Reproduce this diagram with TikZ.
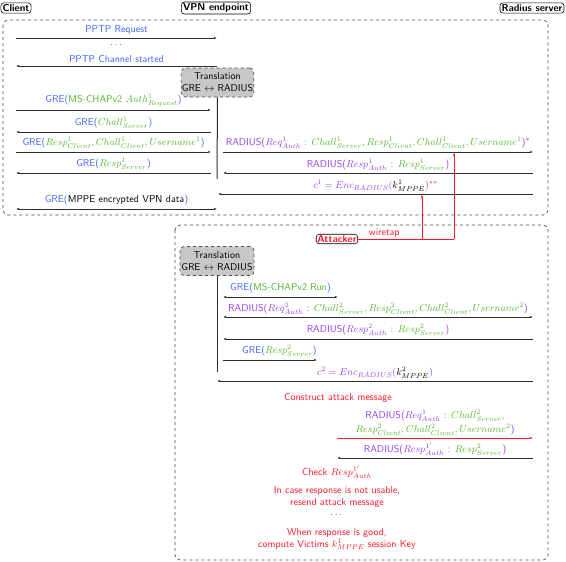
\documentclass[tikz,border=0pt]{standalone}
\usepackage{amsmath}
\usepackage{amssymb}
\usepackage{xcolor}
\usetikzlibrary{arrows.meta}

\definecolor{greblue}{RGB}{60,100,255}
\definecolor{chapgreen}{RGB}{80,180,40}
\definecolor{radpurple}{RGB}{150,60,240}
\definecolor{attred}{RGB}{255,20,40}
\definecolor{linegray}{RGB}{45,45,45}

\newcommand{\gre}[1]{\textcolor{greblue}{GRE(}#1\textcolor{greblue}{)}}
\newcommand{\rad}[1]{\textcolor{radpurple}{RADIUS(}#1\textcolor{radpurple}{)}}
\newcommand{\chap}[1]{\textcolor{chapgreen}{#1}}
\newcommand{\rp}[1]{\textcolor{radpurple}{#1}}

\tikzset{
  party/.style={draw, rounded corners=3pt, font=\sffamily\bfseries, inner sep=1.6pt, line width=0.6pt},
  phase/.style={draw=black!70, dashed, rounded corners=5pt, line width=0.7pt},
  transl/.style={draw=black!70, dashed, fill=black!22, rounded corners=4pt, align=center, inner xsep=0.5pt, inner ysep=2.5pt, minimum width=71pt, minimum height=29pt, line width=0.7pt},
  msg/.style={-{Latex[length=3pt,width=2.2pt]}, draw=linegray, line width=0.6pt},
  dmsg/.style={{Latex[length=3pt,width=2.2pt]}-{Latex[length=3pt,width=2.2pt]}, draw=linegray, line width=0.6pt},
  lifeline/.style={draw=linegray, line width=1pt},
  note/.style={text=attred, align=center},
}

\begin{document}
\begin{tikzpicture}[x=1pt, y=-1pt, every node/.style={font=\sffamily}]
\useasboundingbox (0,0) rectangle (566,562);

% parties
\node (C) at (16,8) [party] {Client};
\node (V) at (216,8) [party] {VPN endpoint};
\node (R) at (532,8) [party] {Radius server};

% phases
\draw [phase] (3,20) rectangle (548,215);
\draw [phase] (175,225) rectangle (548,560);

% first run
\coordinate (c1) at (16,38);  \coordinate (v1) at (217,38);
\coordinate (c2) at (16,66);  \coordinate (v2) at (217,66);
\coordinate (c3) at (16,110); \coordinate (v3) at (211,110);
\coordinate (c4) at (16,132); \coordinate (v4) at (211,132);
\coordinate (c5) at (16,152); \coordinate (v5) at (211,152);
\coordinate (c6) at (16,173); \coordinate (v6) at (211,173);
\coordinate (c7) at (16,209); \coordinate (v7) at (217,209);
\coordinate (w5) at (223,152); \coordinate (r5) at (533,152);
\coordinate (w6) at (223,173); \coordinate (r6) at (533,173);
\coordinate (w8) at (218,194); \coordinate (r8) at (533,194);

\node (T1) at (217.5,82.5) [transl] {Translation\\GRE $\leftrightarrow$ RADIUS};
\coordinate (L1) at (217,179);
\draw [lifeline] (T1.south) -- (L1);

\draw [msg] (c1) -- (v1) node[midway, above] {\textcolor{greblue}{PPTP Request}};
\node (dots1) at (117,45) [] {\textcolor{greblue}{$\dots$}};
\draw [msg] (v2) -- (c2) node[midway, above] {\textcolor{greblue}{PPTP Channel started}};
\draw [msg] (c3) -- (v3) node[midway, above] {\gre{\chap{MS-CHAPv2 $Auth^1_{Request}$}}};
\draw [msg] (v4) -- (c4) node[midway, above] {\gre{\chap{$Chall^1_{Server}$}}};
\draw [msg] (c5) -- (v5) node[midway, above] {\gre{\chap{$Resp^1_{Client}, Chall^1_{Client}, Username^1$}}};
\draw [msg] (v6) -- (c6) node[midway, above] {\gre{\chap{$Resp^1_{Server}$}}};
\draw [msg] (w5) -- (r5) node[midway, above] {\rad{\rp{$Req^1_{Auth}$ :} \chap{$Chall^1_{Server}, Resp^1_{Client}, Chall^1_{Client}, Username^1$}}\textcolor{attred}{$^{*}$}};
\draw [msg] (r6) -- (w6) node[midway, above, yshift=-1pt] {\rad{\rp{$Resp^1_{Auth}$ :} \chap{$Resp^1_{Server}$}}};
\draw [msg] (r8) -- (w8) node[midway, above, yshift=-1pt] {\rp{$c^1 = Enc_{RADIUS}($}$k^1_{MPPE}$\rp{$)$}\textcolor{attred}{$^{**}$}};
\draw [dmsg] (c7) -- (v7) node[midway, above] {\gre{MPPE encrypted VPN data}};

% attacker
\node (A) at (337,239) [party, text=attred, inner sep=1.2pt] {Attacker};
\coordinate (tapA) at (422,239); \coordinate (tapB) at (422,194.5);
\coordinate (tapC) at (454,239); \coordinate (tapD) at (454,152.5);
\draw [attred, line width=0.7pt] (A.east) -- (tapC) node[pos=0.1, above right, inner sep=1pt] {wiretap};
\draw [attred, line width=0.7pt, -{Latex[length=3pt,width=2.2pt]}] (tapC) -- (tapD);
\draw [attred, line width=0.7pt, -{Latex[length=3pt,width=2.2pt]}] (tapA) -- (tapB);

% second run
\node (T2) at (217,261) [transl, minimum width=74pt] {Translation\\GRE $\leftrightarrow$ RADIUS};
\coordinate (L2) at (217,372);
\draw [lifeline] (T2.south) -- (L2);

\coordinate (a1) at (223,297); \coordinate (b1) at (338,297);
\coordinate (a2) at (223,317); \coordinate (b2) at (533,317);
\coordinate (a3) at (223,339); \coordinate (b3) at (533,339);
\coordinate (a4) at (223,360); \coordinate (b4) at (317,360);
\coordinate (a5) at (217,381); \coordinate (b5) at (533,381);
\coordinate (a6) at (337,438); \coordinate (b6) at (533,438);
\coordinate (a7) at (337,458); \coordinate (b7) at (533,458);

\draw [dmsg] (a1) -- (b1) node[midway, above] {\gre{\chap{MS-CHAPv2 Run}}};
\draw [dmsg] (a2) -- (b2) node[midway, above, yshift=-1pt] {\rad{\rp{$Req^2_{Auth}$ :} \chap{$Chall^2_{Server}, Resp^2_{Client}, Chall^2_{Client}, Username^2$}}};
\draw [msg] (b3) -- (a3) node[midway, above] {\rad{\rp{$Resp^2_{Auth}$ :} \chap{$Resp^2_{Server}$}}};
\draw [msg] (a4) -- (b4) node[pos=0.6, above] {\gre{\chap{$Resp^2_{Server}$}}};
\draw [msg] (b5) -- (a5) node[midway, above, yshift=-1pt] {\rp{$c^2 = Enc_{RADIUS}($}$k^2_{MPPE}$\rp{$)$}};

\node (N1) at (338,398) [note] {Construct attack message};
\draw [msg, draw=attred] (a6) -- (b6) node[midway, above, align=center, yshift=-1pt] {\rad{\rp{$Req^1_{Auth}$ :} \chap{$Chall^2_{Server}$,}\\[2pt]\chap{$Resp^2_{Client}, Chall^2_{Client}, Username^2$}}};
\draw [msg] (b7) -- (a7) node[midway, above, yshift=-1pt] {\rad{\rp{$Resp^{1'}_{Auth}$ :} \chap{$Resp^2_{Server}$}}};
\node (N2) at (337,472) [note] {Check $Resp^{1'}_{Auth}$};
\node (N3) at (337,497) [note] {In case response is not usable,\\resend attack message};
\node (N4) at (337,515) [note] {$\dots$};
\node (N5) at (337,539) [note] {When response is good,\\compute Victims $k^1_{MPPE}$ session Key};

\end{tikzpicture}
\end{document}
